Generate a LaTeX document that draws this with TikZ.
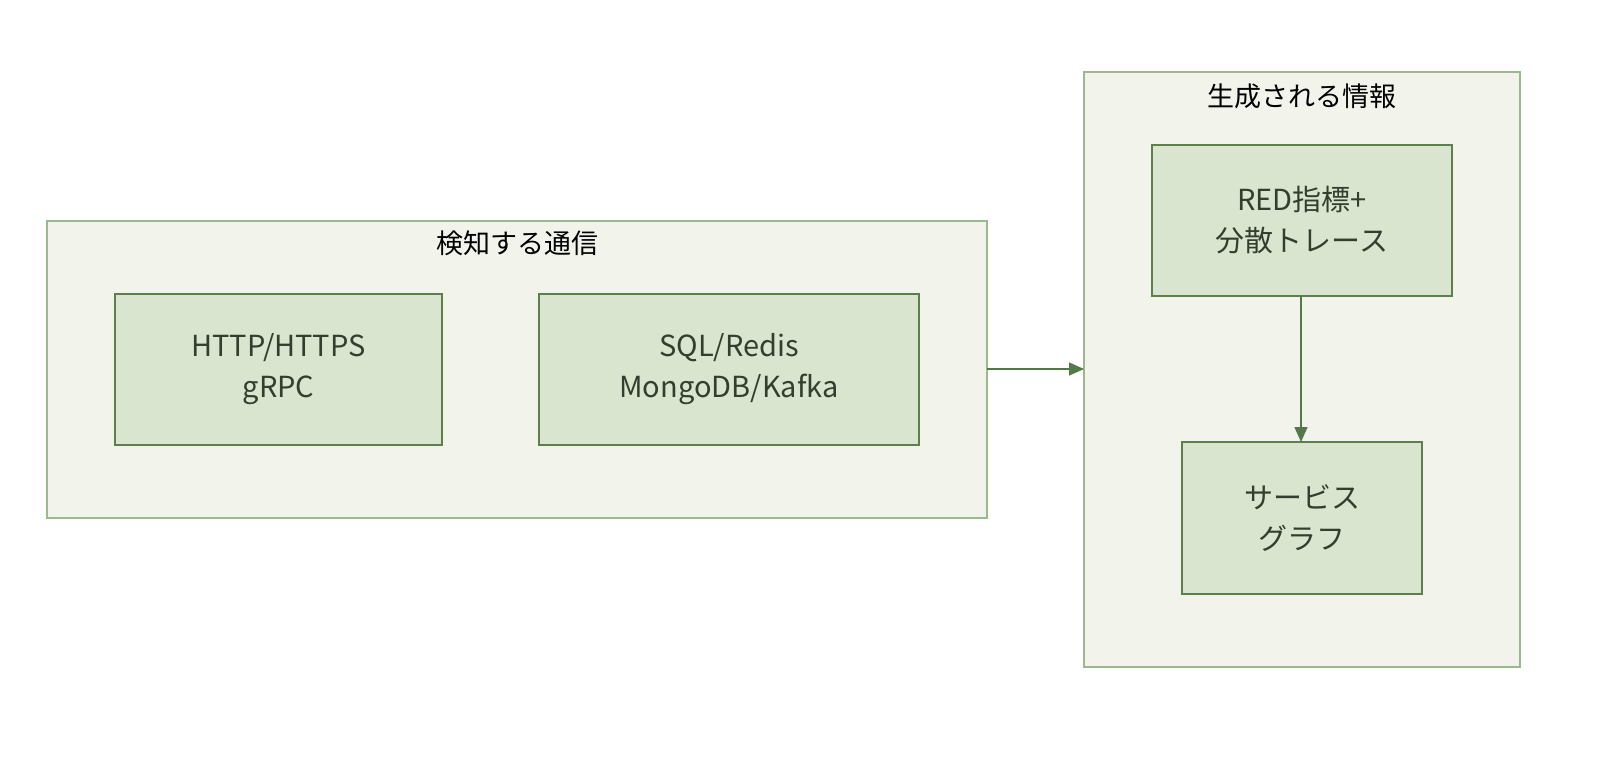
\documentclass[tikz,border=0pt]{standalone}
\usepackage{fontspec}
\setmainfont{Noto Sans CJK JP}
\usetikzlibrary{arrows.meta}
\definecolor{outerfill}{HTML}{F2F4EC}
\definecolor{outerdraw}{HTML}{9DB78E}
\definecolor{innerfill}{HTML}{DAE5CF}
\definecolor{innerdraw}{HTML}{5E7E4E}
\definecolor{txt}{HTML}{333F2E}
\definecolor{arr}{HTML}{54784A}
\tikzset{
 outer/.style={draw=outerdraw,fill=outerfill,line width=1.2pt},
 inner/.style={draw=innerdraw,fill=innerfill,line width=1.2pt},
 ttl/.style={font=\fontsize{27}{32}\selectfont,text=black},
 lbl/.style={font=\fontsize{29}{41}\selectfont,text=txt,align=center},
 conn/.style={draw=arr,line width=1.4pt,-{Triangle[length=15pt,width=13pt]}}
}
\begin{document}
\begin{tikzpicture}[x=1pt,y=-1pt]
\useasboundingbox (0,0) rectangle (1612,764);
\draw[outer] (47,221) rectangle (987,518);
\coordinate (Lr) at (987,369);
\node[ttl] (t1) at (517,243) {検知する通信};
\draw[inner] (115,294) rectangle (442,445);
\node[lbl] (a) at (278.5,369.5) {HTTP/HTTPS\\gRPC};
\draw[inner] (539,294) rectangle (919,445);
\node[lbl] (b) at (729,369.5) {SQL/Redis\\MongoDB/Kafka};
\draw[outer] (1084,72) rectangle (1520,667);
\coordinate (Rl) at (1084,369);
\node[ttl] (t2) at (1302,96) {生成される情報};
\draw[inner] (1152,145) rectangle (1452,296);
\node[lbl] (c) at (1302,220.5) {RED指標+\\分散トレース};
\coordinate (cb) at (1301,296);
\draw[inner] (1182,442) rectangle (1422,594);
\node[lbl] (d) at (1302,518) {サービス\\グラフ};
\coordinate (dt) at (1301,442);
\draw[conn] (Lr) -- (Rl);
\draw[conn] (cb) -- (dt);
\end{tikzpicture}
\end{document}
